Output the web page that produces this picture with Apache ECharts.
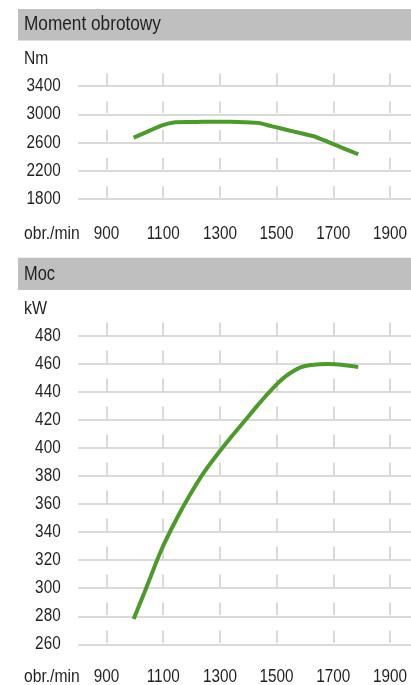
<!DOCTYPE html>
<html>
<head>
<meta charset="utf-8">
<script src="https://cdn.jsdelivr.net/npm/echarts@6/dist/echarts.min.js"></script>
<style>
html,body{margin:0;padding:0;background:#fff;}
#c{width:411px;height:685px;}
</style>
</head>
<body>
<div id="c"></div>
<script>
// ---- data ----
const rpm = [1000, 1050, 1100, 1150, 1200, 1250, 1300, 1350, 1400, 1450, 1500, 1550, 1600, 1650, 1700, 1750, 1810];
const torque = [2670, 2755, 2840, 2890, 2893, 2894, 2895, 2894, 2890, 2880, 2830, 2783, 2736, 2690, 2611, 2530, 2435];
const power = [278, 302.5, 327.3, 347.6, 365.6, 381.6, 395.1, 407.5, 419.3, 431.2, 442.3, 451.5, 457.5, 459.5, 460, 459.5, 457.8];
const rpmTicks = ['900', '1100', '1300', '1500', '1700', '1900'];
const torqueTicks = ['1800', '2200', '2600', '3000', '3400'];
const powerTicks = ['260', '280', '300', '320', '340', '360', '380', '400', '420', '440', '460', '480'];
const titles = ['Moment obrotowy', 'Moc'];
const units = ['Nm', 'kW'];
const xUnit = 'obr./min';

// ---- style ----
const FONT = '"Liberation Sans", Arial, sans-serif';
const TXT = '#231f20';
const GRIDC = '#d9d9d9';
const GREEN = '#4c9a2a';
const SQ = 0.85; // horizontal condensing of text

const chart = echarts.init(document.getElementById('c'), null, {renderer: 'canvas'});

const gridW = 340.2, gridL = 78.15;
const tickL = 106.5, tickW = 283.5;

const hidden = {show: false};
const hiddenAxis = (extra) => Object.assign({
  axisLine: hidden, axisTick: hidden, axisLabel: hidden, splitLine: hidden
}, extra);

const option = {
  animation: false,
  backgroundColor: '#fff',
  grid: [
    {left: gridL, top: 86.2, width: gridW, height: 112.8},
    {left: gridL, top: 86.2, width: gridW, height: 112.8},
    {left: tickL, top: 73.4, width: tickW, height: 125.6},
    {left: gridL, top: 336, width: gridW, height: 308.3},
    {left: tickL, top: 322.5, width: tickW, height: 321.8}
  ],
  xAxis: [
    hiddenAxis({type: 'value', gridIndex: 0, min: 800, max: 2000}),
    hiddenAxis({type: 'value', gridIndex: 1, min: 0, max: 1}),
    hiddenAxis({
      type: 'category', gridIndex: 2, data: rpmTicks, boundaryGap: false,
      splitLine: {show: true, lineStyle: {color: GRIDC, width: 2, type: [11.5, 16.7], dashOffset: 0}}
    }),
    hiddenAxis({type: 'value', gridIndex: 3, min: 800, max: 2000}),
    hiddenAxis({
      type: 'category', gridIndex: 4, data: rpmTicks, boundaryGap: false,
      splitLine: {show: true, lineStyle: {color: GRIDC, width: 2, type: [12.5, 15.5], dashOffset: 0}}
    })
  ],
  yAxis: [
    hiddenAxis({type: 'value', gridIndex: 0, min: Number(torqueTicks[0]), max: Number(torqueTicks[torqueTicks.length - 1])}),
    hiddenAxis({
      type: 'category', gridIndex: 1, data: torqueTicks, boundaryGap: false,
      splitLine: {show: true, lineStyle: {color: GRIDC, width: 2}}
    }),
    hiddenAxis({type: 'value', gridIndex: 2, min: 0, max: 1}),
    hiddenAxis({
      type: 'value', gridIndex: 3, min: Number(powerTicks[0]), max: Number(powerTicks[powerTicks.length - 1]), interval: 20,
      splitLine: {show: true, lineStyle: {color: GRIDC, width: 2}}
    }),
    hiddenAxis({type: 'value', gridIndex: 4, min: 0, max: 1})
  ],
  series: [
    {
      type: 'line', xAxisIndex: 0, yAxisIndex: 0, z: 5,
      data: rpm.map((r, i) => [r, torque[i]]),
      showSymbol: false, smooth: 0.15,
      lineStyle: {color: GREEN, width: 4, cap: 'butt'}
    },
    {
      type: 'line', xAxisIndex: 3, yAxisIndex: 3, z: 5,
      data: rpm.map((r, i) => [r, power[i]]),
      showSymbol: false, smooth: 0.4,
      lineStyle: {color: GREEN, width: 4, cap: 'butt'}
    }
  ]
};
chart.setOption(option);

// ---- texts (condensed), placed through the axes' own scales ----
function txt(text, x, y, size, align, sq) {
  return {
    type: 'text', x: x, y: y, scaleX: sq, silent: true, z: 10,
    style: {text: text, fill: TXT, font: size + 'px ' + FONT, textAlign: align, textVerticalAlign: 'middle'}
  };
}
const g = [
  {type: 'rect', shape: {x: 18, y: 9, width: 393, height: 31.5}, style: {fill: '#bfbfbf'}, silent: true},
  {type: 'rect', shape: {x: 18, y: 257.8, width: 393, height: 32.2}, style: {fill: '#bfbfbf'}, silent: true},
  txt(titles[0], 24, 24, 21, 'left', 0.82),
  txt(titles[1], 24, 274, 21, 'left', 0.78),
  txt(units[0], 24, 59, 19, 'left', 0.82),
  txt(units[1], 24, 309, 19, 'left', 0.84),
  txt(xUnit, 24, 234, 18, 'left', 0.87),
  txt(xUnit, 24, 677.5, 18, 'left', 0.87)
];
const labelRight = gridL - 17.5;
torqueTicks.forEach((t, i) => {
  const y = chart.convertToPixel({yAxisIndex: 1}, i);
  g.push(txt(t, labelRight, y, 18, 'right', SQ));
});
powerTicks.forEach((t) => {
  const y = chart.convertToPixel({yAxisIndex: 3}, Number(t));
  g.push(txt(t, labelRight, y, 18, 'right', SQ));
});
rpmTicks.forEach((t, i) => {
  const x1 = chart.convertToPixel({xAxisIndex: 2}, i);
  g.push(txt(t, x1, 234, 18, 'center', SQ));
  const x2 = chart.convertToPixel({xAxisIndex: 4}, i);
  g.push(txt(t, x2, 677.5, 18, 'center', SQ));
});
chart.setOption({graphic: g});
</script>
</body>
</html>
